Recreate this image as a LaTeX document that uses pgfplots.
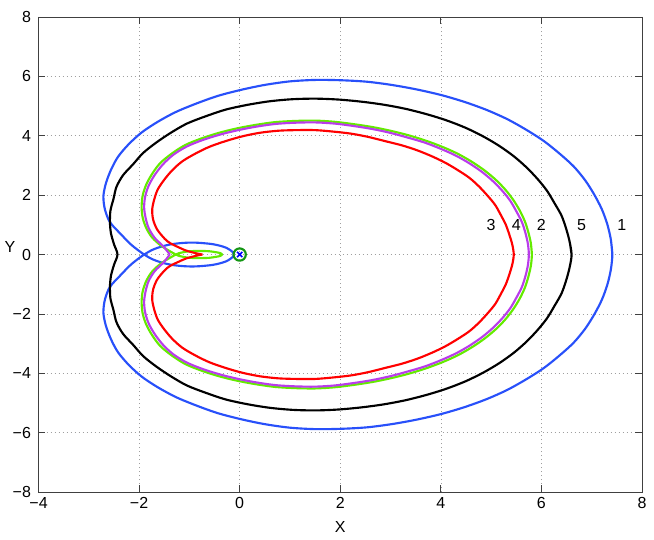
\documentclass[border=0pt]{standalone}
\usepackage{fontspec}
\setmainfont{Liberation Sans}
\usepackage{pgfplots}
\pgfplotsset{compat=1.18}
\definecolor{cA}{RGB}{40,80,250}
\definecolor{cB}{RGB}{100,235,0}
\definecolor{cC}{RGB}{255,0,0}
\definecolor{cD}{RGB}{185,60,235}
\definecolor{cE}{RGB}{0,0,0}
\definecolor{mk}{RGB}{20,150,20}
\begin{document}
\fontsize{12}{14}\selectfont
\begin{tikzpicture}
\begin{axis}[
  scale only axis, width=452.6pt, height=356.3pt,
  xmin=-4, xmax=8, ymin=-8, ymax=8,
  xtick={-4,-2,...,8}, ytick={-8,-6,...,8},
  xticklabels={−4,−2,0,2,4,6,8},
  yticklabels={−8,−6,−4,−2,0,2,4,6,8},
  tick align=inside, major tick length=5pt,
  grid=major,
  grid style={dash pattern=on 0.7pt off 2.3pt, gray!75, line width=0.5pt},
  axis line style={black!75, line width=0.6pt},
  tick style={black!75, line width=0.6pt},
  tick label style={font=\fontsize{12}{14}\selectfont},
  yticklabel style={xshift=-1.5pt},
  label style={font=\fontsize{12}{14}\selectfont},
  xlabel={X}, ylabel={Y},
  xlabel style={at={(axis description cs:0.5,0)}, anchor=center, yshift=-26.3pt},
  ylabel style={at={(axis description cs:0,0.516)}, rotate=-90, anchor=center, xshift=-21.5pt},
  every axis plot/.append style={line width=1.6pt, line join=round},
  clip=true,
]
\coordinate (SW) at (rel axis cs:0,0);
\coordinate (NE) at (rel axis cs:1,1);
% 1 blue
\addplot[cA, smooth] coordinates {
(7.41,0)(7.38,0.51)(7.31,1.02)(7.20,1.53)(7.05,2.02)(6.87,2.50)(6.64,2.97)(6.36,3.40)(6.05,3.82)(5.70,4.20)(5.32,4.56)(4.91,4.87)(4.47,5.14)(4.01,5.37)(3.52,5.56)(3.03,5.71)(2.53,5.82)(2.01,5.87)(1.50,5.88)(0.99,5.83)(0.49,5.71)(0.01,5.54)(-0.44,5.34)(-0.87,5.08)(-1.27,4.80)(-1.63,4.47)(-1.95,4.11)(-2.21,3.71)(-2.42,3.29)(-2.56,2.85)(-2.66,2.40)(-2.71,1.96)(-2.68,1.52)(-2.58,1.09)(-2.36,0.68)(-2.15,0.32)(-1.90,0)
(-1.72,-0.17)(-1.55,-0.27)(-1.38,-0.34)(-1.20,-0.38)(-1.03,-0.40)(-0.87,-0.40)(-0.70,-0.38)(-0.54,-0.35)(-0.40,-0.30)(-0.27,-0.23)(-0.18,-0.14)(-0.13,-0.07)(-0.12,0)
(-0.13,0.07)(-0.18,0.14)(-0.27,0.23)(-0.40,0.30)(-0.54,0.35)(-0.70,0.38)(-0.87,0.40)(-1.03,0.40)(-1.20,0.38)(-1.38,0.34)(-1.55,0.27)(-1.72,0.17)(-1.90,0)
(-2.15,-0.32)(-2.36,-0.68)(-2.58,-1.09)(-2.68,-1.52)(-2.71,-1.96)(-2.66,-2.40)(-2.56,-2.85)(-2.42,-3.29)(-2.21,-3.71)(-1.95,-4.11)(-1.63,-4.47)(-1.27,-4.80)(-0.87,-5.08)(-0.44,-5.34)(0.01,-5.54)(0.49,-5.71)(0.99,-5.83)(1.50,-5.88)(2.01,-5.87)(2.53,-5.82)(3.03,-5.71)(3.52,-5.56)(4.01,-5.37)(4.47,-5.14)(4.91,-4.87)(5.32,-4.56)(5.70,-4.20)(6.05,-3.82)(6.36,-3.40)(6.64,-2.97)(6.87,-2.50)(7.05,-2.02)(7.20,-1.53)(7.31,-1.02)(7.38,-0.51)(7.41,0)(7.38,0.51)
};
% 2 green
\addplot[cB, smooth] coordinates {
(5.81,0)(5.79,0.38)(5.74,0.75)(5.67,1.12)(5.57,1.48)(5.44,1.84)(5.28,2.19)(5.09,2.52)(4.87,2.83)(4.62,3.12)(4.34,3.39)(4.04,3.62)(3.71,3.83)(3.37,4.01)(3.02,4.16)(2.65,4.29)(2.27,4.39)(1.89,4.47)(1.50,4.51)(1.11,4.50)(0.71,4.46)(0.33,4.37)(-0.05,4.25)(-0.41,4.10)(-0.76,3.91)(-1.08,3.69)(-1.35,3.40)(-1.58,3.08)(-1.74,2.72)(-1.86,2.35)(-1.93,1.98)(-1.95,1.61)(-1.93,1.25)(-1.86,0.90)(-1.74,0.57)(-1.54,0.27)(-1.27,0)
(-1.17,-0.06)(-1.05,-0.10)(-0.90,-0.12)(-0.75,-0.12)(-0.60,-0.11)(-0.48,-0.08)(-0.39,-0.05)(-0.35,0)(-0.39,0.05)(-0.48,0.08)(-0.60,0.11)(-0.75,0.12)(-0.90,0.12)(-1.05,0.10)(-1.17,0.06)(-1.27,0)
(-1.54,-0.27)(-1.74,-0.57)(-1.86,-0.90)(-1.93,-1.25)(-1.95,-1.61)(-1.93,-1.98)(-1.86,-2.35)(-1.74,-2.72)(-1.58,-3.08)(-1.35,-3.40)(-1.08,-3.69)(-0.76,-3.91)(-0.41,-4.10)(-0.05,-4.25)(0.33,-4.37)(0.71,-4.46)(1.11,-4.50)(1.50,-4.51)(1.89,-4.47)(2.27,-4.39)(2.65,-4.29)(3.02,-4.16)(3.37,-4.01)(3.71,-3.83)(4.04,-3.62)(4.34,-3.39)(4.62,-3.12)(4.87,-2.83)(5.09,-2.52)(5.28,-2.19)(5.44,-1.84)(5.57,-1.48)(5.67,-1.12)(5.74,-0.75)(5.79,-0.38)(5.81,0)(5.79,0.38)
};
% 3 red
\addplot[cC, smooth] coordinates {
(-0.74,0)(-0.86,0.04)(-1.06,0.13)(-1.21,0.24)(-1.38,0.38)(-1.49,0.53)(-1.64,0.84)(-1.72,1.17)(-1.74,1.51)(-1.70,1.85)(-1.63,2.19)(-1.50,2.52)(-1.34,2.84)(-1.14,3.14)(-0.88,3.40)(-0.60,3.63)(-0.28,3.82)(0.05,3.98)(0.40,4.10)(0.77,4.17)(1.13,4.19)(1.50,4.19)(1.86,4.14)(2.22,4.07)(2.56,3.96)(2.89,3.82)(3.22,3.68)(3.53,3.51)(3.82,3.31)(4.09,3.09)(4.34,2.84)(4.57,2.58)(4.76,2.29)(4.93,1.98)(5.08,1.67)(5.19,1.34)(5.29,1.01)(5.36,0.68)(5.42,0.34)(5.45,0)
(5.42,-0.34)(5.36,-0.68)(5.29,-1.01)(5.19,-1.34)(5.08,-1.67)(4.93,-1.98)(4.76,-2.29)(4.57,-2.58)(4.34,-2.84)(4.09,-3.09)(3.82,-3.31)(3.53,-3.51)(3.22,-3.68)(2.89,-3.82)(2.56,-3.96)(2.22,-4.07)(1.86,-4.14)(1.50,-4.19)(1.13,-4.19)(0.77,-4.17)(0.40,-4.10)(0.05,-3.98)(-0.28,-3.82)(-0.60,-3.63)(-0.88,-3.40)(-1.14,-3.14)(-1.34,-2.84)(-1.50,-2.52)(-1.63,-2.19)(-1.70,-1.85)(-1.74,-1.51)(-1.72,-1.17)(-1.64,-0.84)(-1.49,-0.53)(-1.38,-0.38)(-1.21,-0.24)(-1.06,-0.13)(-0.86,-0.04)(-0.74,0)
};
% 4 purple
\addplot[cD, smooth] coordinates {
(-1.39,0)(-1.51,0.26)(-1.69,0.56)(-1.81,0.89)(-1.87,1.23)(-1.90,1.58)(-1.88,1.95)(-1.81,2.32)(-1.69,2.68)(-1.53,3.03)(-1.32,3.36)(-1.05,3.64)(-0.73,3.86)(-0.39,4.04)(-0.03,4.19)(0.34,4.31)(0.72,4.40)(1.11,4.44)(1.50,4.45)(1.89,4.41)(2.26,4.33)(2.63,4.23)(2.99,4.10)(3.34,3.94)(3.68,3.77)(4.00,3.56)(4.30,3.33)(4.57,3.07)(4.82,2.78)(5.03,2.48)(5.22,2.15)(5.38,1.81)(5.50,1.46)(5.61,1.10)(5.68,0.74)(5.73,0.37)(5.75,0)
(5.73,-0.37)(5.68,-0.74)(5.61,-1.10)(5.50,-1.46)(5.38,-1.81)(5.22,-2.15)(5.03,-2.48)(4.82,-2.78)(4.57,-3.07)(4.30,-3.33)(4.00,-3.56)(3.68,-3.77)(3.34,-3.94)(2.99,-4.10)(2.63,-4.23)(2.26,-4.33)(1.89,-4.41)(1.50,-4.45)(1.11,-4.44)(0.72,-4.40)(0.34,-4.31)(-0.03,-4.19)(-0.39,-4.04)(-0.73,-3.86)(-1.05,-3.64)(-1.32,-3.36)(-1.53,-3.03)(-1.69,-2.68)(-1.81,-2.32)(-1.88,-1.95)(-1.90,-1.58)(-1.87,-1.23)(-1.81,-0.89)(-1.69,-0.56)(-1.51,-0.26)(-1.39,0)
};
% 5 black
\addplot[cE, smooth] coordinates {
(6.60,0)(6.56,0.44)(6.49,0.88)(6.40,1.31)(6.26,1.73)(6.11,2.15)(5.92,2.55)(5.70,2.94)(5.45,3.31)(5.16,3.66)(4.84,3.98)(4.49,4.27)(4.11,4.52)(3.71,4.73)(3.29,4.91)(2.85,5.05)(2.41,5.15)(1.96,5.22)(1.50,5.25)(1.04,5.23)(0.59,5.16)(0.15,5.04)(-0.28,4.88)(-0.67,4.66)(-1.05,4.41)(-1.37,4.10)(-1.66,3.77)(-1.92,3.42)(-2.12,3.04)(-2.32,2.67)(-2.45,2.28)(-2.51,1.87)(-2.57,1.48)(-2.58,1.09)(-2.56,0.72)(-2.50,0.35)(-2.43,0)
(-2.50,-0.35)(-2.56,-0.72)(-2.58,-1.09)(-2.57,-1.48)(-2.51,-1.87)(-2.45,-2.28)(-2.32,-2.67)(-2.12,-3.04)(-1.92,-3.42)(-1.66,-3.77)(-1.37,-4.10)(-1.05,-4.41)(-0.67,-4.66)(-0.28,-4.88)(0.15,-5.04)(0.59,-5.16)(1.04,-5.23)(1.50,-5.25)(1.96,-5.22)(2.41,-5.15)(2.85,-5.05)(3.29,-4.91)(3.71,-4.73)(4.11,-4.52)(4.49,-4.27)(4.84,-3.98)(5.16,-3.66)(5.45,-3.31)(5.70,-2.94)(5.92,-2.55)(6.11,-2.15)(6.26,-1.73)(6.40,-1.31)(6.49,-0.88)(6.56,-0.44)(6.60,0)(6.56,0.44)
};
% origin marker
\addplot[only marks, mark=o, mark size=4.6pt, mark options={draw=mk, line width=1.6pt}] coordinates {(0,0)};
\addplot[only marks, mark=x, mark size=2.8pt, mark options={draw=blue, line width=1.2pt}] coordinates {(0,0)};
% curve labels
\node[font=\fontsize{12}{14}\selectfont] at (axis cs:5.0,1.0) {3};
\node[font=\fontsize{12}{14}\selectfont] at (axis cs:5.5,1.0) {4};
\node[font=\fontsize{12}{14}\selectfont] at (axis cs:6.0,1.0) {2};
\node[font=\fontsize{12}{14}\selectfont] at (axis cs:6.8,1.0) {5};
\node[font=\fontsize{12}{14}\selectfont] at (axis cs:7.6,1.0) {1};
\end{axis}
\pgfresetboundingbox
\path ([shift={(-28.9pt,-35.25pt)}]SW) rectangle ([shift={(9pt,12.75pt)}]NE);
\end{tikzpicture}
\end{document}
